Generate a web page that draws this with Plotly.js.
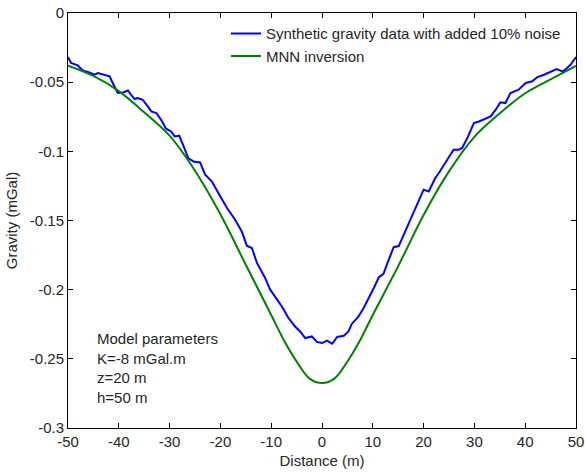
<!DOCTYPE html>
<html>
<head>
<meta charset="utf-8">
<script src="https://cdn.plot.ly/plotly-3.0.1.min.js"></script>
<style>html,body{margin:0;padding:0;background:#fff;}#chart{width:585px;height:474px;}</style>
</head>
<body>
<div id="chart"></div>
<script>
// Synthetic gravity data with added 10% noise (blue)
const noisyX = [-50,-49.4,-48.1,-47.1,-45.8,-44.8,-44.1,-42.8,-41.8,-41.2,-40.2,-39.2,-38.2,-37.6,-36.9,-36.3,-35.3,-34.3,-33.6,-32.6,-31.6,-30.7,-29.7,-29.0,-28.1,-27.1,-26.3,-25.3,-24.0,-23.0,-21.7,-20.4,-18.7,-17.1,-15.8,-14.8,-13.8,-12.8,-11.2,-10.2,-8.9,-7.9,-6.6,-5.3,-4.3,-3.3,-2.0,-1.0,0,1.0,2.0,3.0,4.3,5.2,5.9,7.2,8.2,9.4,10.2,11.2,12.1,12.9,14.1,15.1,15.8,16.8,18.4,19.4,20.0,21.0,22.3,23.0,25.0,25.9,26.9,27.6,28.6,29.9,30.9,31.8,33.2,34.2,35.1,36.1,37.1,38.7,40.1,41.4,42.4,43.7,45.0,46.2,47.3,47.9,48.9,50];
const noisyG = [-0.0318,-0.0361,-0.0379,-0.0415,-0.0429,-0.0446,-0.0434,-0.0446,-0.0458,-0.0506,-0.0578,-0.0574,-0.0560,-0.0590,-0.0622,-0.0614,-0.0627,-0.0675,-0.0711,-0.0723,-0.0776,-0.0836,-0.0856,-0.0892,-0.0887,-0.0976,-0.1050,-0.1073,-0.1080,-0.1169,-0.1217,-0.1301,-0.1410,-0.1494,-0.1579,-0.1682,-0.1699,-0.1807,-0.1915,-0.2000,-0.2073,-0.2121,-0.2205,-0.2266,-0.2302,-0.2350,-0.2338,-0.2378,-0.2386,-0.2369,-0.2391,-0.2342,-0.2333,-0.2302,-0.2246,-0.2193,-0.2133,-0.2050,-0.1988,-0.1910,-0.1886,-0.1807,-0.1693,-0.1685,-0.1627,-0.1554,-0.1422,-0.1326,-0.1277,-0.1290,-0.1193,-0.1157,-0.1037,-0.0988,-0.0988,-0.0976,-0.0904,-0.0795,-0.0784,-0.0771,-0.0747,-0.0699,-0.0646,-0.0651,-0.0578,-0.0554,-0.0506,-0.0494,-0.0463,-0.0446,-0.0422,-0.0405,-0.0422,-0.0410,-0.0374,-0.0318];

// MNN inversion (green)
const mnnX = [-50,-45,-40,-35,-30,-25,-20,-15,-10,-7.5,-5,-2.5,0,2.5,5,7.5,10,15,20,25,30,35,40,45,50];
const mnnG = [-0.0380,-0.0455,-0.0565,-0.0718,-0.0887,-0.1140,-0.1455,-0.1820,-0.2183,-0.2365,-0.2519,-0.2641,-0.2675,-0.2641,-0.2519,-0.2365,-0.2183,-0.1830,-0.1460,-0.1145,-0.0895,-0.0725,-0.0580,-0.0480,-0.0382];

const xTickVals = [-50,-40,-30,-20,-10,0,10,20,30,40,50];
const xTickText = ['-50','-40','-30','-20','-10','0','10','20','30','40','50'];
const yTickVals = [-0.3,-0.25,-0.2,-0.15,-0.1,-0.05,0];
const yTickText = ['-0.3','-0.25','-0.2','-0.15','-0.1','-0.05','0'];

const seriesNames = ['Synthetic gravity data with added 10% noise','MNN inversion'];
const noteLines = ['Model parameters','K=-8 mGal.m','z=20 m','h=50 m'];

const FONT = 'Liberation Sans, Arial, sans-serif';
const TXT = '#262626';
const FS = 15;

const traces = [
  {x: noisyX, y: noisyG, type: 'scatter', mode: 'lines', name: seriesNames[0],
   line: {color: '#0000ff', width: 2}},
  {x: mnnX, y: mnnG, type: 'scatter', mode: 'lines', name: seriesNames[1],
   line: {color: '#008000', width: 2, shape: 'spline', smoothing: 1}}
];

const axisCommon = {
  showgrid: false, zeroline: false, showline: true, mirror: 'ticks',
  linecolor: '#000', linewidth: 1, ticks: 'inside', ticklen: 5, tickcolor: '#000',
  tickfont: {family: FONT, size: FS, color: TXT}
};

const layout = {
  width: 585, height: 474,
  margin: {l: 68, r: 9, t: 13, b: 46},
  paper_bgcolor: '#fff', plot_bgcolor: '#fff',
  font: {family: FONT, size: FS, color: TXT},
  showlegend: true,
  legend: {x: 0.311, y: 0.99, xanchor: 'left', yanchor: 'top', bgcolor: 'rgba(0,0,0,0)',
           borderwidth: 0, font: {family: FONT, size: FS, color: TXT}, tracegroupgap: 0},
  xaxis: Object.assign({}, axisCommon, {range: [-50, 50], tickvals: xTickVals, ticktext: xTickText,
    title: {text: 'Distance (m)', font: {family: FONT, size: FS, color: TXT}, standoff: 6}}),
  yaxis: Object.assign({}, axisCommon, {range: [-0.3, 0], tickvals: yTickVals, ticktext: yTickText,
    title: {text: 'Gravity (mGal)', font: {family: FONT, size: FS, color: TXT}, standoff: 8}}),
  annotations: [{
    x: -44.7, y: -0.2564, xref: 'x', yref: 'y', xanchor: 'left', yanchor: 'middle', align: 'left',
    showarrow: false, text: noteLines.join('<br>'),
    font: {family: FONT, size: FS, color: TXT}
  }]
};

Plotly.newPlot('chart', traces, layout, {displayModeBar: false, staticPlot: true});
</script>
</body>
</html>
